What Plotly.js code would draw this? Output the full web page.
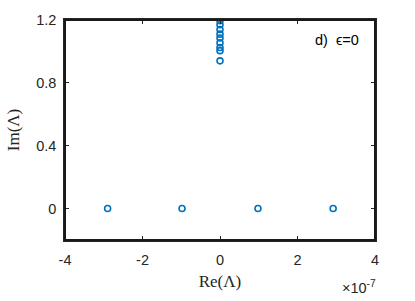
<!DOCTYPE html>
<html>
<head>
<meta charset="utf-8">
<script src="https://cdn.plot.ly/plotly-3.0.1.min.js"></script>
<style>
  html, body { margin: 0; padding: 0; background: #fff; }
  #plot { width: 415px; height: 301px; }
</style>
</head>
<body>
<div id="plot"></div>
<script>
// eigenvalues, Re in units of 1e-7
const reVals = [-2.9, -0.98, 0.98, 2.92, 0, 0, 0, 0, 0, 0, 0, 0, 0];
const imVals = [0, 0, 0, 0, 1.195, 1.17, 1.14, 1.11, 1.085, 1.055, 1.025, 1.005, 0.94];
const xScale = 1e-7;

const xTicks = [-4, -2, 0, 2, 4];
const yTicks = [0, 0.4, 0.8, 1.2];
const yTickText = ['0', '0.4', '0.8', '1.2'];

const blue = '#0072BD';
const axCol = '#262626';

const trace = {
  x: reVals.map(v => v * xScale),
  y: imVals,
  type: 'scatter',
  mode: 'markers',
  marker: {
    symbol: 'circle-open',
    size: 6,
    color: blue,
    line: { color: blue, width: 1.6 }
  },
  showlegend: false,
  hoverinfo: 'none'
};

const tickFont = { family: 'Liberation Sans, Arial, sans-serif', size: 14.5, color: axCol };
const titleFont = { family: 'Liberation Serif, DejaVu Serif, serif', size: 17, color: axCol };

const layout = {
  width: 415,
  height: 301,
  margin: { l: 65, r: 40, t: 20, b: 61 },
  paper_bgcolor: '#fff',
  plot_bgcolor: '#fff',
  xaxis: {
    range: [-4 * xScale, 4 * xScale],
    tickvals: xTicks.map(v => v * xScale),
    ticktext: xTicks.map(String),
    ticks: 'inside',
    ticklen: 4,
    tickwidth: 1.2,
    tickcolor: axCol,
    showline: true,
    linecolor: axCol,
    linewidth: 1.5,
    mirror: 'allticks',
    ticklabelstandoff: 6,
    showgrid: false,
    zeroline: false,
    tickfont: tickFont,
    title: { text: 'Re(Λ)', font: titleFont, standoff: 8 }
  },
  yaxis: {
    range: [-0.2, 1.2],
    tickvals: yTicks,
    ticktext: yTickText,
    ticks: 'inside',
    ticklen: 4,
    tickwidth: 1.2,
    tickcolor: axCol,
    showline: true,
    linecolor: axCol,
    linewidth: 1.5,
    mirror: 'allticks',
    ticklabelstandoff: 4,
    showgrid: false,
    zeroline: false,
    tickfont: tickFont,
    title: { text: 'Im(Λ)', font: titleFont, standoff: 12 }
  },
  // frame round the plot area
  shapes: [
    {
      type: 'rect', xref: 'x domain', yref: 'y domain',
      x0: 0, x1: 1, y0: 0, y1: 1,
      line: { color: '#1a1a1a', width: 2 },
      layer: 'above'
    }
  ],
  annotations: [
    {
      text: 'd)  ϵ=0',
      xref: 'paper', yref: 'paper',
      x: 0.955, y: 0.91,
      xanchor: 'right', yanchor: 'middle',
      showarrow: false,
      font: { family: 'Liberation Sans, Arial, sans-serif', size: 14.5, color: '#000' }
    },
    {
      text: '×10<sup>-7</sup>',
      xref: 'paper', yref: 'paper',
      x: 1.01, y: -0.215,
      xanchor: 'right', yanchor: 'middle',
      showarrow: false,
      font: { family: 'Liberation Sans, Arial, sans-serif', size: 14.5, color: axCol }
    }
  ]
};

Plotly.newPlot('plot', [trace], layout, { displayModeBar: false });
</script>
</body>
</html>
